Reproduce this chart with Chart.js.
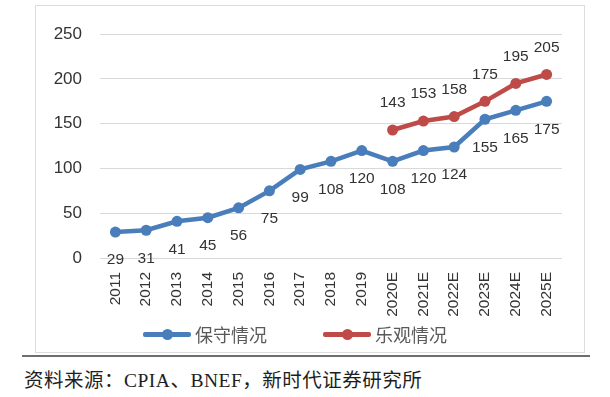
<!DOCTYPE html>
<html>
<head>
<meta charset="utf-8">
<script src="https://cdn.jsdelivr.net/npm/chart.js@4/dist/chart.umd.min.js"></script>
<style>
  html, body { margin: 0; padding: 0; background: #fff; }
  body { width: 610px; height: 397px; position: relative; overflow: hidden; }
  .box { position: absolute; left: 35px; top: 5px; width: 548px; height: 346px; border: 1px solid #dcdcdc; }
  .box canvas { position: absolute; left: 0; top: 0; }
  .legend-item { position: absolute; top: 322px; height: 24px; font: 18px "Noto Sans CJK SC", sans-serif; color: #595959; line-height: 24px; }
  .legend-item .mark { position: absolute; top: 10px; width: 48px; height: 5px; border-radius: 2px; }
  .legend-item .mark i { position: absolute; left: 19px; top: -3px; width: 11px; height: 11px; border-radius: 50%; }
  .legend-item span { position: absolute; left: 52px; white-space: nowrap; }
  .rule { position: absolute; left: 22px; top: 355px; width: 568px; height: 2px; background: #6e6e6e; }
  .source { position: absolute; left: 24px; top: 364px; font: 19.5px "Liberation Serif", "Noto Sans CJK SC", serif; letter-spacing: 0.5px; color: #1e1e1e; white-space: nowrap; }
</style>
</head>
<body>
<div class="box"><canvas id="chart" width="548" height="346"></canvas></div>
<div class="legend-item" style="left:143px"><div class="mark" style="background:#4a7ebb"><i style="background:#4a7ebb"></i></div><span>保守情况</span></div>
<div class="legend-item" style="left:323px"><div class="mark" style="background:#be4b48"><i style="background:#be4b48"></i></div><span>乐观情况</span></div>
<div class="rule"></div>
<div class="source">资料来源：CPIA、BNEF，新时代证券研究所</div>
<script>
const years = ['2011', '2012', '2013', '2014', '2015', '2016', '2017', '2018', '2019',
  '2020E', '2021E', '2022E', '2023E', '2024E', '2025E'];
const conservative = [29, 31, 41, 45, 56, 75, 99, 108, 120, 108, 120, 124, 155, 165, 175];
const optimistic = [null, null, null, null, null, null, null, null, null, 143, 153, 158, 175, 195, 205];
const seriesNames = ['保守情况', '乐观情况'];
const yTicks = [0, 50, 100, 150, 200, 250];

const BLUE = '#4a7ebb';
const RED = '#be4b48';

// value labels: blue under the points, red above
const valueLabels = {
  id: 'valueLabels',
  afterDatasetsDraw(chart) {
    const ctx = chart.ctx;
    ctx.save();
    ctx.font = '15.5px "Liberation Sans", sans-serif';
    ctx.fillStyle = '#333';
    ctx.textAlign = 'center';
    ctx.textBaseline = 'middle';
    chart.data.datasets.forEach((ds, i) => {
      const meta = chart.getDatasetMeta(i);
      const dy = i === 0 ? 28 : -27;
      meta.data.forEach((pt, j) => {
        const v = ds.data[j];
        if (v === null || v === undefined) return;
        ctx.fillText(String(v), pt.x, pt.y + dy);
      });
    });
    ctx.restore();
  }
};

const ctx = document.getElementById('chart').getContext('2d');
new Chart(ctx, {
  type: 'line',
  data: {
    labels: years,
    datasets: [
      {
        label: seriesNames[0],
        data: conservative,
        borderColor: BLUE,
        backgroundColor: BLUE,
        borderWidth: 4.5,
        pointRadius: 5.5,
        pointBorderWidth: 0,
        tension: 0,
      },
      {
        label: seriesNames[1],
        data: optimistic,
        borderColor: RED,
        backgroundColor: RED,
        borderWidth: 4.5,
        pointRadius: 5.5,
        pointBorderWidth: 0,
        tension: 0,
      },
    ],
  },
  options: {
    responsive: false,
    animation: false,
    layout: { padding: { top: 24, right: 22, left: 0, bottom: 0 } },
    plugins: {
      legend: { display: false },
      tooltip: { enabled: false },
    },
    scales: {
      x: {
        offset: true,
        grid: { display: false, drawTicks: false },
        border: { display: false },
        ticks: {
          autoSkip: false,
          minRotation: 90,
          maxRotation: 90,
          padding: 14,
          color: '#333',
          font: { family: '"Liberation Sans", sans-serif', size: 15.5 },
        },
        afterFit(scale) { scale.height = 94; },
      },
      y: {
        min: 0,
        max: 250,
        afterBuildTicks(scale) { scale.ticks = yTicks.map(v => ({ value: v })); },
        grid: { color: '#d9d9d9', lineWidth: 1, drawTicks: false },
        border: { display: false },
        ticks: {
          padding: 18,
          color: '#333',
          font: { family: '"Liberation Sans", sans-serif', size: 17 },
        },
        afterFit(scale) { scale.width = 64; },
      },
    },
  },
  plugins: [valueLabels],
});
</script>
</body>
</html>
